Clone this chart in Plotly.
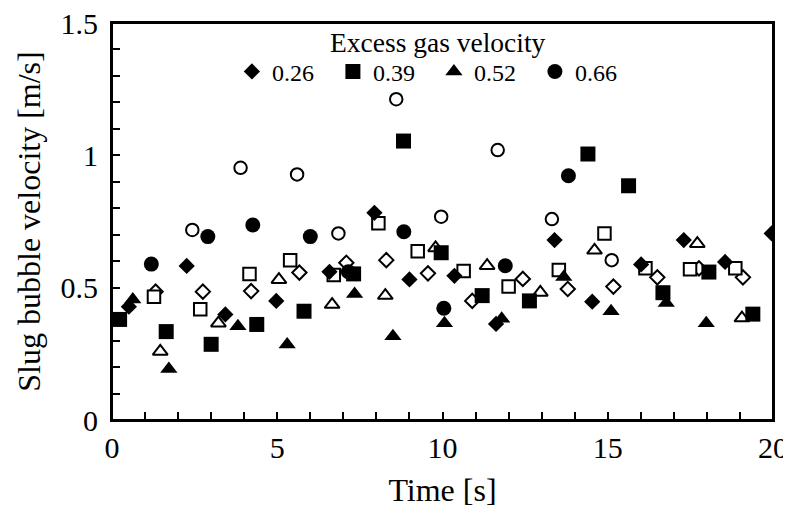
import plotly.graph_objects as go

# ---- data (time [s], slug bubble velocity [m/s]) ----
t_026_filled = [0.51, 2.26, 3.43, 4.97, 6.58, 7.94, 9.00, 10.36, 11.62, 13.39, 14.53, 16.01, 17.30, 18.55, 19.96]
v_026_filled = [0.428, 0.582, 0.399, 0.450, 0.560, 0.783, 0.531, 0.545, 0.363, 0.680, 0.447, 0.588, 0.680, 0.597, 0.705]
t_026_open = [1.32, 2.75, 4.21, 5.67, 7.09, 8.30, 9.56, 10.90, 12.43, 13.79, 15.17, 16.50, 17.76, 19.09]
v_026_open = [0.485, 0.485, 0.487, 0.557, 0.594, 0.604, 0.554, 0.450, 0.533, 0.495, 0.504, 0.539, 0.573, 0.539]

t_039_filled = [0.23, 1.64, 3.00, 4.38, 5.81, 7.31, 8.82, 9.96, 11.20, 12.63, 14.40, 15.63, 16.67, 18.06, 19.39]
v_039_filled = [0.380, 0.334, 0.286, 0.361, 0.411, 0.552, 1.054, 0.632, 0.470, 0.450, 1.005, 0.885, 0.481, 0.559, 0.400]
t_039_open = [1.27, 2.67, 4.16, 5.39, 6.71, 8.06, 9.25, 10.64, 12.00, 13.52, 14.90, 16.14, 17.49, 18.86]
v_039_open = [0.466, 0.418, 0.552, 0.604, 0.548, 0.743, 0.638, 0.563, 0.504, 0.567, 0.705, 0.573, 0.570, 0.573]

t_052_filled = [0.63, 1.72, 3.81, 5.30, 7.34, 8.50, 10.06, 11.79, 13.67, 15.10, 16.77, 17.98]
v_052_filled = [0.455, 0.193, 0.354, 0.285, 0.476, 0.316, 0.366, 0.383, 0.540, 0.411, 0.442, 0.366]
t_052_open = [1.46, 3.22, 5.05, 6.66, 8.27, 9.79, 11.35, 12.96, 14.60, 17.71, 19.06]
v_052_open = [0.259, 0.366, 0.530, 0.436, 0.470, 0.650, 0.583, 0.482, 0.641, 0.666, 0.385]

t_066_filled = [1.19, 2.90, 4.26, 6.00, 7.15, 8.83, 10.04, 11.90, 13.81]
v_066_filled = [0.589, 0.693, 0.737, 0.693, 0.560, 0.711, 0.422, 0.583, 0.923]
t_066_open = [2.43, 3.89, 5.60, 6.85, 8.60, 9.96, 11.67, 13.31, 15.12]
v_066_open = [0.718, 0.953, 0.928, 0.705, 1.212, 0.768, 1.020, 0.759, 0.604]

series_names = ["0.26", "0.39", "0.52", "0.66"]
legend_title = "Excess gas velocity"
symbols = ["diamond", "square", "triangle-up", "circle"]
filled_sizes = [12.5, 15, 15, 15]
open_sizes = [11, 12.5, 13, 12.5]

filled = [(t_026_filled, v_026_filled), (t_039_filled, v_039_filled),
          (t_052_filled, v_052_filled), (t_066_filled, v_066_filled)]
opened = [(t_026_open, v_026_open), (t_039_open, v_039_open),
          (t_052_open, v_052_open), (t_066_open, v_066_open)]

FONT = "Liberation Serif, Times New Roman, serif"

fig = go.Figure()
for i in range(4):
    fig.add_trace(go.Scatter(
        x=opened[i][0], y=opened[i][1], mode="markers", showlegend=False,
        marker=dict(symbol=symbols[i], size=open_sizes[i], color="white",
                    line=dict(color="black", width=2)),
    ))
for i in range(4):
    fig.add_trace(go.Scatter(
        x=filled[i][0], y=filled[i][1], mode="markers", name=series_names[i],
        marker=dict(symbol=symbols[i], size=filled_sizes[i], color="black",
                    line=dict(color="black", width=0)),
    ))

axis_common = dict(
    showline=True, linecolor="black", linewidth=2, mirror=True,
    ticks="inside", ticklen=8, tickwidth=2, tickcolor="black",
    showgrid=False, zeroline=False, automargin=False,
    ticklabeloverflow="allow",
    tickfont=dict(family=FONT, size=30, color="black"),
)

fig.update_xaxes(range=[0, 20], dtick=5, tick0=0,
                 minor=dict(dtick=1, ticks="inside", ticklen=8, tickwidth=2, tickcolor="black"),
                 title=dict(text="Time [s]", font=dict(family=FONT, size=32, color="black"), standoff=16),
                 ticklabelstandoff=0,
                 **axis_common)
fig.update_yaxes(range=[0, 1.5], dtick=0.5, tick0=0,
                 minor=dict(dtick=0.1, ticks="inside", ticklen=8, tickwidth=2, tickcolor="black"),
                 title=dict(text="Slug bubble velocity [m/s]", font=dict(family=FONT, size=32, color="black"), standoff=10),
                 ticklabelstandoff=6,
                 **axis_common)

# page body adds an 8px offset; the figure is sized so the plot area lands at
# x 112-773, y 23-420 in the 791x519 window
fig.update_layout(
    width=783, height=511,
    margin=dict(l=104, r=18, t=15, b=99),
    paper_bgcolor="white", plot_bgcolor="white",
    font=dict(family=FONT, color="black"),
    legend=dict(
        orientation="h", x=0.487, y=0.877, xanchor="center", yanchor="middle",
        bgcolor="rgba(0,0,0,0)", borderwidth=0,
        font=dict(family=FONT, size=24, color="black"),
        itemwidth=30, entrywidth=56, entrywidthmode="pixels",
        tracegroupgap=0,
    ),
    annotations=[dict(
        text=legend_title, xref="paper", yref="paper", x=0.493, y=0.95,
        xanchor="center", yanchor="middle", showarrow=False,
        font=dict(family=FONT, size=27.5, color="black"),
    )],
    shapes=[dict(
        type="rect", xref="paper", yref="paper", x0=0, x1=1, y0=0, y1=1,
        line=dict(color="black", width=2), fillcolor="rgba(0,0,0,0)", layer="above",
    )],
)

fig.write_html("out.html")
